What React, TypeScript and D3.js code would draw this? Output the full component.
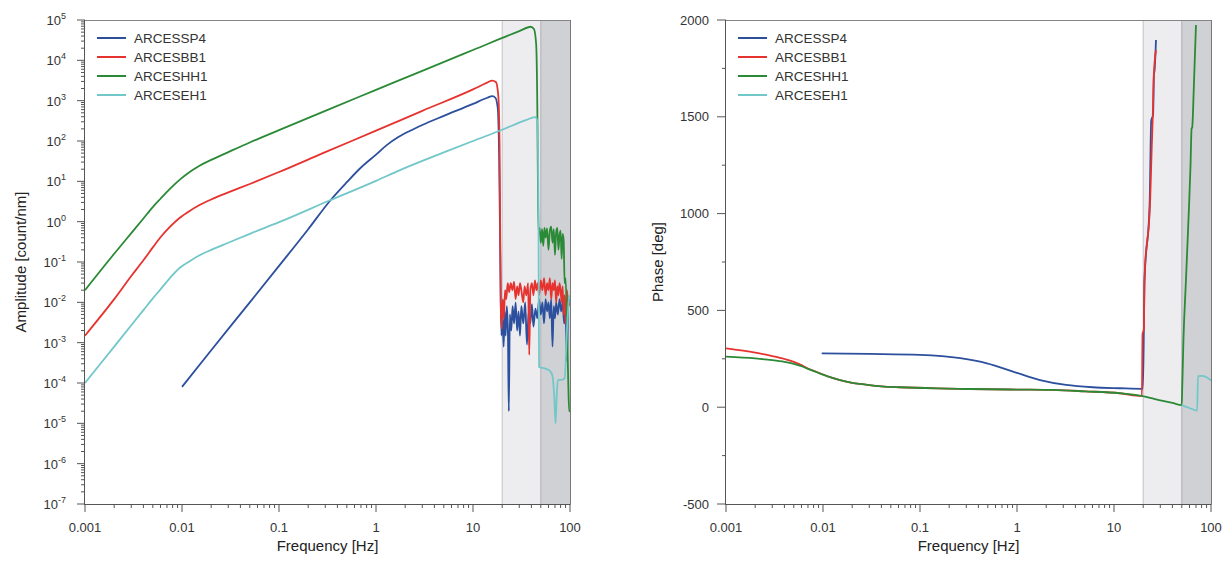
import React from 'react';
import * as d3 from 'd3';

// axis ticks and labels
const freqTicks = [0.001, 0.01, 0.1, 1, 10, 100];
const freqTickLabels = ['0.001', '0.01', '0.1', '1', '10', '100'];
const ampExponents = [5, 4, 3, 2, 1, 0, -1, -2, -3, -4, -5, -6, -7];
const phaseTicks = [-500, 0, 500, 1000, 1500, 2000];
const phaseMinorTicks = [-250, 250, 750, 1250, 1750];

const seriesNames = ['ARCESSP4', 'ARCESBB1', 'ARCESHH1', 'ARCESEH1'];
const seriesColors = ['#2c4f9e', '#e6332f', '#2b8a36', '#72c7c9'];

// shaded frequency bands [from, to] in Hz
const bandLight = [20, 50];
const bandDark = [50, 100];

type Pt = [number, number];

// amplitude [count/nm] vs frequency [Hz]
const ampSP4: Pt[] = [
  [0.01, 8e-5], [0.02, 6.5e-4], [0.05, 1.0e-2], [0.1, 0.08], [0.2, 0.65], [0.336, 3.3], [0.5, 9.5],
  [0.7, 22], [1, 46], [1.3, 80], [1.7, 125], [2.2, 175], [3, 250], [5, 420], [10, 830], [14, 1180],
  [15.8, 1300], [17, 1180], [18, 650], [18.6, 40], [19.2, 0.05], [19.6, 1.5e-3], [20.2, 4e-3],
  [20.7, 8e-4], [21.2, 6e-3], [21.7, 1.5e-3], [22.3, 8e-3], [22.9, 2e-3], [23.4, 2e-5], [24, 5e-3],
  [24.8, 2e-3], [25.6, 8e-3], [26.5, 3e-3], [27.5, 1e-2], [28.5, 2e-3], [29.5, 6e-3], [30.5, 1.5e-3],
  [31.5, 8e-3], [33, 3e-3], [34.5, 1e-2], [36, 9e-4], [37.5, 6e-3], [39, 3e-3], [40.5, 9e-3],
  [42, 2.5e-3], [44, 7e-3], [46, 4e-3], [48, 0.012], [50, 5e-3], [52, 0.01], [54, 3e-3], [56, 0.012],
  [58, 6e-3], [60, 0.01], [62, 4e-3], [64, 0.012], [66, 8e-4], [68, 8e-3], [70, 4e-3], [72, 0.01],
  [75, 5e-3], [78, 0.012], [81, 6e-3], [84, 0.01], [87, 3e-3], [90, 0.006], [93, 3.5e-4], [96, 0.01],
  [100, 0.012],
];
const ampBB1: Pt[] = [
  [0.001, 1.5e-3], [0.002, 0.012], [0.003, 0.045], [0.004, 0.11], [0.005, 0.23], [0.006, 0.41],
  [0.0075, 0.74], [0.0095, 1.25], [0.012, 1.85], [0.015, 2.55], [0.02, 3.55], [0.03, 5.3], [0.05, 8.6],
  [0.1, 17], [0.3, 53], [1, 180], [3, 560], [10, 1900], [14, 2800], [15.8, 3150], [17.2, 2900],
  [18.2, 1400], [18.8, 80], [19.3, 0.01], [19.8, 2.2e-3], [20.3, 0.012], [20.8, 4e-3], [21.4, 0.02],
  [22, 0.012], [22.8, 0.03], [23.6, 0.018], [24.5, 0.03], [25.5, 0.02], [26.5, 0.032], [27.5, 0.012],
  [28.5, 0.025], [29.5, 0.015], [30.5, 0.03], [31.5, 0.02], [33, 0.01], [34, 0.025], [35.5, 0.015],
  [37, 0.03], [38, 5e-4], [39, 0.02], [40.5, 0.03], [42, 0.015], [43.5, 0.035], [45, 0.02],
  [46.5, 0.03], [48, 0.015], [50, 0.035], [52, 0.02], [54, 0.04], [56, 0.015], [58, 0.03], [60, 0.02],
  [62, 0.04], [64, 0.012], [66, 0.03], [68, 0.02], [70, 0.035], [72, 0.01], [74, 0.025], [76, 0.015],
  [78, 0.03], [80, 0.02], [82, 0.01], [84, 0.025], [86, 0.005], [88, 0.015], [90, 0.003], [93, 0.02],
  [96, 0.008], [100, 0.01],
];
const ampHH1: Pt[] = [
  [0.001, 0.02], [0.002, 0.16], [0.003, 0.52], [0.004, 1.2], [0.005, 2.3], [0.006, 3.7],
  [0.0075, 6.5], [0.0095, 11], [0.012, 17], [0.015, 24], [0.02, 34], [0.03, 53], [0.05, 92],
  [0.1, 186], [0.3, 560], [1, 1850], [3, 5500], [10, 18000], [30, 53000], [39.4, 68000],
  [42.5, 60000], [44.8, 25000], [46, 800], [46.8, 5], [47.5, 0.5], [48.5, 0.7], [50, 0.3],
  [51.5, 0.65], [53, 0.25], [54.5, 0.7], [56, 0.4], [58, 0.68], [60, 0.2], [62, 0.6], [64, 0.75],
  [66, 0.3], [68, 0.65], [70, 0.15], [72, 0.55], [74, 0.7], [76, 0.2], [78, 0.45], [80, 0.6],
  [82, 0.12], [84, 0.5], [86, 0.35], [88, 0.03], [90, 0.04], [93, 3e-3], [96, 1e-4], [98, 2e-5],
  [100, 2e-5],
];
const ampEH1: Pt[] = [
  [0.001, 1e-4], [0.002, 8e-4], [0.003, 2.7e-3], [0.004, 6.4e-3], [0.005, 0.0125], [0.006, 0.021],
  [0.0075, 0.04], [0.0095, 0.072], [0.012, 0.105], [0.015, 0.145], [0.02, 0.2], [0.03, 0.3],
  [0.05, 0.5], [0.1, 0.97], [0.336, 3.4], [1, 10.3], [1.77, 19], [5, 52], [10, 100], [20, 190],
  [35, 330], [43.7, 390], [45.8, 330], [46.8, 80], [47.4, 0.5], [48, 2.5e-4], [55, 2.3e-4],
  [62, 2e-4], [66, 1.5e-4], [69, 4e-5], [71, 1e-5], [73, 5e-5], [75, 1.2e-4], [82, 1.2e-4],
  [88, 1.3e-4], [93, 2e-3], [98, 0.013], [100, 0.015],
];

// phase [deg] vs frequency [Hz]
const phaseSP4: Pt[] = [
  [0.0097, 278], [0.03, 275], [0.1, 270], [0.26, 253], [0.49, 227], [0.91, 184], [1.73, 140],
  [3.2, 115], [6, 103], [11.5, 98], [19.8, 95], [20.2, 300], [20.6, 640], [23.3, 1050],
  [24.2, 1480], [25.3, 1510], [25.8, 1720], [26.2, 1740], [27.1, 1897],
];
const phaseBB1: Pt[] = [
  [0.001, 304], [0.002, 282], [0.003, 264], [0.004, 249], [0.005, 234], [0.006, 217], [0.007, 200],
  [0.0085, 183], [0.01, 169], [0.0125, 152], [0.015, 140], [0.02, 126], [0.024, 120], [0.03, 114],
  [0.04, 108], [0.062, 103], [0.15, 97], [0.33, 94], [1, 91], [2.35, 89], [5, 82], [11.5, 72],
  [19.4, 58], [19.7, 380], [20.3, 400], [20.6, 657], [23.6, 1070], [24.5, 1345], [25.1, 1500],
  [25.7, 1707], [27.1, 1845],
];
const phaseHH1: Pt[] = [
  [0.001, 261], [0.002, 252], [0.003, 243], [0.004, 234], [0.005, 224], [0.006, 212], [0.007, 198],
  [0.0085, 182], [0.01, 168], [0.0125, 151], [0.015, 140], [0.02, 126], [0.024, 120], [0.03, 114],
  [0.04, 108], [0.062, 103], [0.15, 97], [0.33, 94], [1, 91], [2.35, 89], [5, 82], [11.5, 72],
  [19.3, 58], [30, 35], [40, 22], [49.9, 11], [50.5, 100], [52, 350], [55.2, 657], [57.5, 870],
  [59.7, 1070], [61.5, 1250], [63.1, 1440], [64, 1445], [66.5, 1650], [70, 1974],
];
const phaseEH1: Pt[] = [
  [49.9, 11], [60, -4], [72, -18], [73.4, 161], [80, 162], [90, 155], [100, 138],
];

const ampSeries = [ampSP4, ampBB1, ampHH1, ampEH1];
const phaseSeries = [phaseSP4, phaseBB1, phaseHH1, phaseEH1];

const FONT = 'Liberation Sans, Arial, sans-serif';
const TOP = 20, BOTTOM = 504;

function minorFreqs() {
  const out: number[] = [];
  for (let d = -3; d < 2; d++) for (let k = 2; k < 10; k++) out.push(k * Math.pow(10, d));
  return out;
}

const Panel = ({left, right, yScale, series, yTicks, id, title, titleX}: any) => {
  const x = d3.scaleLog().domain([0.001, 100]).range([left, right]);
  const line = d3.line<Pt>()
    .x(d => x(d[0]))
    .y(d => yScale(d[1]))
    .curve(d3.curveMonotoneX);
  const mid = (left + right) / 2;

  return (
    <g>
      <defs>
        <clipPath id={`clip-${id}`}>
          <rect x={left} y={TOP} width={right - left} height={BOTTOM - TOP} />
        </clipPath>
      </defs>
      {/* shaded bands */}
      <rect x={x(bandLight[0])} y={TOP} width={x(bandLight[1]) - x(bandLight[0])} height={BOTTOM - TOP}
            fill="#ededf0" />
      <rect x={x(bandDark[0])} y={TOP} width={x(bandDark[1]) - x(bandDark[0])} height={BOTTOM - TOP}
            fill="#d0d1d5" />
      <line x1={x(bandLight[0])} x2={x(bandLight[0])} y1={TOP} y2={BOTTOM} stroke="#c2c2c9" />
      <line x1={x(bandDark[0])} x2={x(bandDark[0])} y1={TOP} y2={BOTTOM} stroke="#aeaeb5" />

      {/* frame */}
      <line x1={left} x2={right} y1={TOP + 0.5} y2={TOP + 0.5} stroke="#858585" />
      <line x1={right + 0.5} x2={right + 0.5} y1={TOP} y2={BOTTOM} stroke="#777" />

      {/* curves */}
      <g clipPath={`url(#clip-${id})`}>
        {series.map((s: Pt[], i: number) => (
          <path key={i} d={line(s) || ''} fill="none" stroke={seriesColors[i]} strokeWidth={1.8}
                strokeLinejoin="round" />
        ))}
      </g>

      {/* x axis */}
      <line x1={left} x2={right + 0.5} y1={BOTTOM + 0.5} y2={BOTTOM + 0.5} stroke="#555" />
      {minorFreqs().map((f, i) => (
        <line key={i} x1={x(f)} x2={x(f)} y1={BOTTOM} y2={BOTTOM + 4} stroke="#555" />
      ))}
      {freqTicks.map((f, i) => (
        <g key={i}>
          <line x1={x(f)} x2={x(f)} y1={BOTTOM} y2={BOTTOM + 8} stroke="#555" />
          <text x={x(f)} y={532} textAnchor="middle" fontSize={13} fill="#333">{freqTickLabels[i]}</text>
        </g>
      ))}
      <text x={mid} y={551} textAnchor="middle" fontSize={15} fill="#222">Frequency [Hz]</text>

      {/* y axis */}
      <line x1={left - 0.5} x2={left - 0.5} y1={TOP} y2={BOTTOM + 1} stroke="#555" />
      {yTicks}
      <text transform={`translate(${titleX},262) rotate(-90)`} textAnchor="middle" fontSize={15}
            fill="#222">{title}</text>

      {/* legend */}
      {seriesNames.map((n, i) => (
        <g key={n} transform={`translate(${left + 12},${38 + i * 19})`}>
          <line x1={0} x2={29} y1={0} y2={0} stroke={seriesColors[i]} strokeWidth={2} />
          <text x={37} y={4.5} fontSize={13.5} fill="#333">{n}</text>
        </g>
      ))}
    </g>
  );
};

export default function App() {
  const yAmp = d3.scaleLog().domain([1e-7, 1e5]).range([BOTTOM, TOP]);
  const yPhase = d3.scaleLinear().domain([-500, 2000]).range([BOTTOM, TOP]);
  const ampLeft = 85, phaseLeft = 726;

  const ampMinor: number[] = [];
  for (let d = -7; d < 5; d++) for (let k = 2; k < 10; k++) ampMinor.push(k * Math.pow(10, d));

  const ampTicks = (
    <g>
      {ampMinor.map((v, i) => (
        <line key={i} x1={ampLeft - 4} x2={ampLeft} y1={yAmp(v)} y2={yAmp(v)} stroke="#555" />
      ))}
      {ampExponents.map(e => (
        <g key={e}>
          <line x1={ampLeft - 8} x2={ampLeft} y1={yAmp(Math.pow(10, e))} y2={yAmp(Math.pow(10, e))}
                stroke="#555" />
          <text x={ampLeft - 19} y={yAmp(Math.pow(10, e)) + 5} textAnchor="end" fontSize={13} fill="#333">
            10<tspan dy={-6} fontSize={9}>{e}</tspan>
          </text>
        </g>
      ))}
    </g>
  );

  const phaseTickEls = (
    <g>
      {phaseMinorTicks.map(v => (
        <line key={v} x1={phaseLeft - 4} x2={phaseLeft} y1={yPhase(v)} y2={yPhase(v)} stroke="#555" />
      ))}
      {phaseTicks.map(v => (
        <g key={v}>
          <line x1={phaseLeft - 9} x2={phaseLeft} y1={yPhase(v)} y2={yPhase(v)} stroke="#555" />
          <text x={phaseLeft - 17} y={yPhase(v) + 4.5} textAnchor="end" fontSize={13} fill="#333">{v}</text>
        </g>
      ))}
    </g>
  );

  return (
    <svg width={1223} height={561} style={{position: 'absolute', left: 0, top: 0, background: '#fff'}}
         fontFamily={FONT}>
      <rect width={1223} height={561} fill="#fff" />
      <Panel id="amp" left={ampLeft} right={570} yScale={yAmp} series={ampSeries} yTicks={ampTicks}
             title="Amplitude [count/nm]" titleX={26} />
      <Panel id="phase" left={phaseLeft} right={1211} yScale={yPhase} series={phaseSeries}
             yTicks={phaseTickEls} title="Phase [deg]" titleX={663} />
    </svg>
  );
}
